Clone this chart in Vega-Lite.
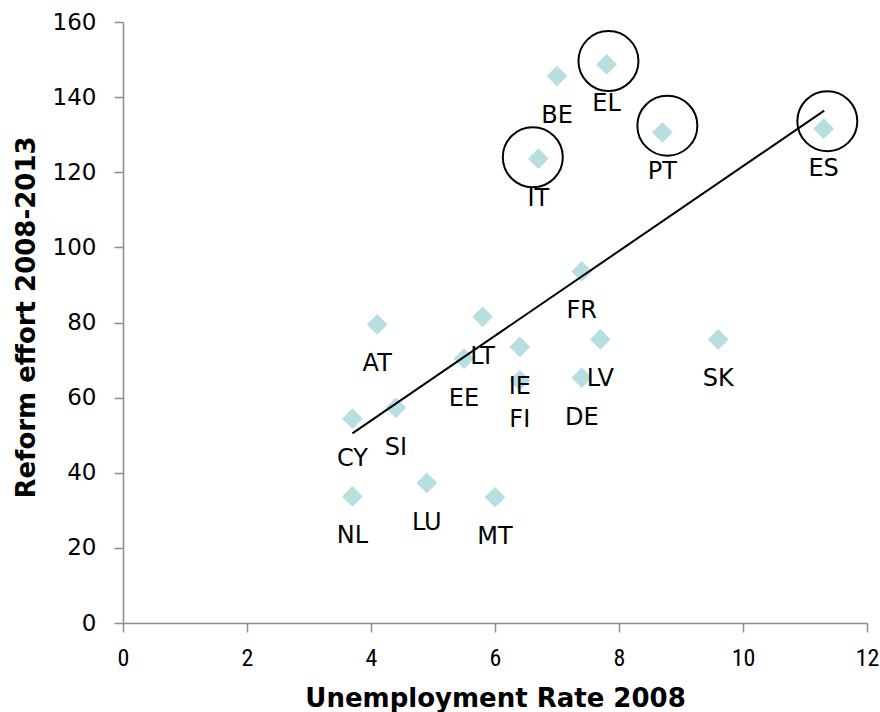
{
  "$schema": "https://vega.github.io/schema/vega-lite/v6.json",
  "width": 744,
  "height": 601,
  "autosize": {"type": "none"},
  "padding": {"left": 123, "top": 22, "right": 13, "bottom": 89},
  "background": "white",
  "config": {
    "view": {"stroke": null},
    "axis": {
      "grid": false,
      "domainColor": "#8c8c8c",
      "domainWidth": 1.5,
      "tickColor": "#8c8c8c",
      "tickWidth": 1.5,
      "tickSize": 9,
      "labelColor": "black",
      "titleColor": "black"
    }
  },
  "datasets": {
    "countries": [
      {"country": "BE", "unemployment": 7.0, "reform": 145.6},
      {"country": "EL", "unemployment": 7.8, "reform": 148.7},
      {"country": "IT", "unemployment": 6.7, "reform": 123.6},
      {"country": "PT", "unemployment": 8.7, "reform": 130.6},
      {"country": "ES", "unemployment": 11.3, "reform": 131.6},
      {"country": "FR", "unemployment": 7.4, "reform": 93.6},
      {"country": "AT", "unemployment": 4.1, "reform": 79.5},
      {"country": "LT", "unemployment": 5.8, "reform": 81.5},
      {"country": "EE", "unemployment": 5.5, "reform": 70.4},
      {"country": "IE", "unemployment": 6.4, "reform": 73.5},
      {"country": "FI", "unemployment": 6.4, "reform": 64.6},
      {"country": "LV", "unemployment": 7.7, "reform": 75.5},
      {"country": "DE", "unemployment": 7.4, "reform": 65.3},
      {"country": "SK", "unemployment": 9.6, "reform": 75.5},
      {"country": "CY", "unemployment": 3.7, "reform": 54.4},
      {"country": "SI", "unemployment": 4.4, "reform": 57.3},
      {"country": "NL", "unemployment": 3.7, "reform": 33.7},
      {"country": "LU", "unemployment": 4.9, "reform": 37.3},
      {"country": "MT", "unemployment": 6.0, "reform": 33.5}
    ],
    "trend": [
      {"unemployment": 3.7, "reform": 50.5},
      {"unemployment": 11.31, "reform": 136.4}
    ],
    "circles": [
      {"country": "EL", "unemployment": 7.83, "reform": 149.6},
      {"country": "IT", "unemployment": 6.61, "reform": 124.0},
      {"country": "PT", "unemployment": 8.78, "reform": 132.4},
      {"country": "ES", "unemployment": 11.36, "reform": 133.6}
    ]
  },
  "layer": [
    {
      "data": {"name": "countries"},
      "mark": {"type": "point", "shape": "diamond", "filled": true, "color": "#b7dee0", "size": 430, "opacity": 1},
      "encoding": {
        "x": {
          "field": "unemployment", "type": "quantitative",
          "scale": {"domain": [0, 12], "nice": false, "zero": true},
          "axis": {
            "values": [0, 2, 4, 6, 8, 10, 12],
            "format": "d",
            "title": "Unemployment Rate 2008",
            "titleFont": "DejaVu Sans",
            "titleFontWeight": "bold",
            "titleFontSize": 26,
            "titleX": 372,
            "titleY": 83,
            "titleBaseline": "alphabetic",
            "titleAnchor": "middle",
            "labelFont": "Liberation Sans Narrow, Roboto Condensed, Liberation Sans",
            "labelFontSize": 24,
            "labelPadding": 14,
            "labelFlush": false
          }
        },
        "y": {
          "field": "reform", "type": "quantitative",
          "scale": {"domain": [0, 160], "nice": false},
          "axis": {
            "values": [0, 20, 40, 60, 80, 100, 120, 140, 160],
            "format": "d",
            "title": "Reform effort 2008-2013",
            "titleFont": "DejaVu Sans",
            "titleFontWeight": "bold",
            "titleFontSize": 26,
            "titleAngle": 270,
            "titleX": -97,
            "titleY": 295,
            "titleBaseline": "middle",
            "titleAlign": "center",
            "labelFont": "DejaVu Sans",
            "labelFontSize": 23,
            "labelPadding": 18,
            "labelFlush": false
          }
        }
      }
    },
    {
      "data": {"name": "trend"},
      "mark": {"type": "line", "color": "black", "strokeWidth": 2},
      "encoding": {
        "x": {"field": "unemployment", "type": "quantitative"},
        "y": {"field": "reform", "type": "quantitative"}
      }
    },
    {
      "data": {"name": "circles"},
      "mark": {"type": "point", "shape": "circle", "filled": false, "stroke": "black", "strokeWidth": 2, "size": 3600, "opacity": 1},
      "encoding": {
        "x": {"field": "unemployment", "type": "quantitative"},
        "y": {"field": "reform", "type": "quantitative"}
      }
    },
    {
      "data": {"name": "countries"},
      "mark": {"type": "text", "dy": 40, "align": "center", "baseline": "middle", "font": "DejaVu Sans", "fontSize": 24, "color": "black"},
      "encoding": {
        "x": {"field": "unemployment", "type": "quantitative"},
        "y": {"field": "reform", "type": "quantitative"},
        "text": {"field": "country"}
      }
    }
  ]
}
